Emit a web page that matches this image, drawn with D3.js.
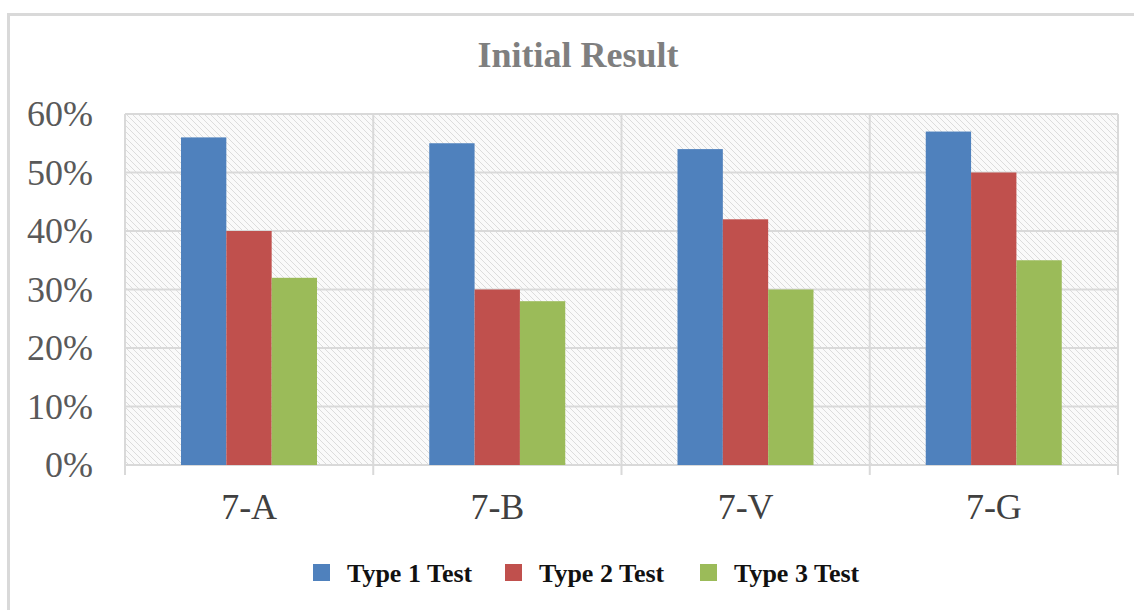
<!DOCTYPE html>
<html><head><meta charset="utf-8">
<script src="https://cdn.jsdelivr.net/npm/d3@7"></script>
<style>body{margin:0;background:#fff;}</style>
</head><body><svg id="c" width="1134" height="610"></svg>
<script>
const categories = ["7-A","7-B","7-V","7-G"];
const seriesNames = ["Type 1 Test","Type 2 Test","Type 3 Test"];
const type1 = [56,55,54,57];
const type2 = [40,30,42,50];
const type3 = [32,28,30,35];
const yTicks = [0,10,20,30,40,50,60];
const colors = ["#4f81bd","#c0504d","#9bbb59"];
const series = [type1,type2,type3];

const svg = d3.select("#c");
const defs = svg.append("defs");
const pat = defs.append("pattern").attr("id","hatch").attr("patternUnits","userSpaceOnUse")
  .attr("width",6).attr("height",6);
pat.append("rect").attr("width",6).attr("height",6).attr("fill","#fafafa");
pat.append("path").attr("d","M-1,-1 L7,7 M-1,5 L1,7 M5,-1 L7,1").attr("stroke","#dcdcdc").attr("stroke-width",1);

// outer border
svg.append("rect").attr("x",8.5).attr("y",14.5).attr("width",1140).attr("height",620)
  .attr("fill","none").attr("stroke","#d9d9d9").attr("stroke-width",3);

const L=125,R=1118,T=114,B=465;
const x0 = d3.scaleBand().domain(categories).range([L,R]).padding(0);
const x1 = d3.scaleBand().domain(seriesNames).range([56,192]).padding(0);
const y = d3.scaleLinear().domain([0,60]).range([B,T]);

svg.append("rect").attr("x",L).attr("y",T).attr("width",R-L).attr("height",B-T).attr("fill","url(#hatch)");

// horizontal grid
svg.append("g").selectAll("line").data(yTicks).join("line")
  .attr("x1",L).attr("x2",R).attr("y1",d=>y(d)).attr("y2",d=>y(d))
  .attr("stroke","#d9d9d9").attr("stroke-width",2);
// vertical grid
const bounds = categories.map(c=>x0(c)).concat([R]);
svg.append("g").selectAll("line").data(bounds).join("line")
  .attr("x1",d=>d).attr("x2",d=>d).attr("y1",T).attr("y2",B+10)
  .attr("stroke","#d9d9d9").attr("stroke-width",2);

// bars
categories.forEach((c,i)=>{
  seriesNames.forEach((s,j)=>{
    svg.append("rect").attr("x",x0(c)+x1(s)).attr("width",x1.bandwidth())
      .attr("y",y(series[j][i])).attr("height",B-y(series[j][i])).attr("fill",colors[j]);
  });
});

// y labels
const yAxis = d3.axisLeft(y).tickValues(yTicks).tickFormat(d=>d+"%").tickSize(0).tickPadding(0);
const gy = svg.append("g").attr("transform",`translate(${L-32},0)`).call(yAxis);
gy.select(".domain").remove();
gy.selectAll("text").attr("font-family","'Liberation Serif',serif").attr("font-size",36).attr("fill","#595959");

// x labels
const xAxis = d3.axisBottom(x0).tickSize(0).tickPadding(0);
const gx = svg.append("g").attr("transform",`translate(0,519)`).call(xAxis);
gx.select(".domain").remove();
gx.selectAll("text").attr("font-family","'Liberation Serif',serif").attr("font-size",36).attr("fill","#404040").attr("dy","0");

// title
svg.append("text").attr("x",578).attr("y",67).attr("text-anchor","middle")
  .attr("font-family","'Liberation Serif',serif").attr("font-weight","bold").attr("font-size",36)
  .attr("fill","#7f7f7f").text("Initial Result");

// legend
const legX=[313,505,700];
const lg = svg.append("g").selectAll("g").data(seriesNames).join("g")
  .attr("transform",(d,i)=>`translate(${legX[i]},564)`);
lg.append("rect").attr("x",0).attr("y",0).attr("width",17).attr("height",17).attr("fill",(d,i)=>colors[i]);
lg.append("text").attr("x",34).attr("y",18).attr("font-family","'Liberation Serif',serif")
  .attr("font-weight","bold").attr("font-size",26).attr("fill","#111").text(d=>d);
</script></body></html>
